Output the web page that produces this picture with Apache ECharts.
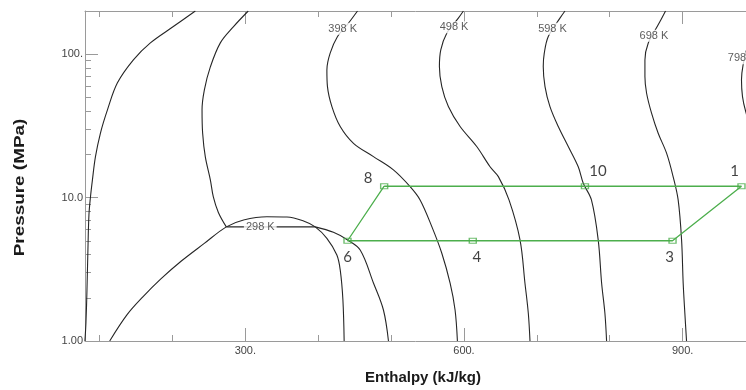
<!DOCTYPE html>
<html><head><meta charset="utf-8">
<script src="https://cdn.jsdelivr.net/npm/echarts@6/dist/echarts.min.js"></script>
<style>html,body{margin:0;padding:0;background:#fff}#c{width:746px;height:390px}</style>
</head><body><div id="c"></div>
<script>
// ---------- data (enthalpy kJ/kg, pressure MPa) ----------
const xMajorTicks = [300, 600, 900];
const xMinorTicks = [100, 200, 400, 500, 700, 800];
const yMajorTicks = [1, 10, 100];
const yMinorTicks = [2, 3, 4, 5, 6, 7, 8, 9, 20, 30, 40, 50, 60, 70, 80, 90];

const leftCurve = [[231.4,200],[201.2,155.8],[169.7,119.9],[146.4,91.3],[124.5,63.1],[110.8,40.9],[101.2,28.2],[94.3,19.2],[90.2,13.3],[87.5,10.1],[85.4,7.57],[84.0,4.31],[82.7,2.27],[81.3,1.34],[79.9,1.0]];
const iso298Liquid = [[304.0,200],[283.5,155],[265.7,119.9],[252.0,81.5],[243.8,56.4],[240.6,40.9],[241.4,28.2],[245.1,19.2],[252.0,13.3],[256.1,10.1],[263.0,7.88],[273.9,6.25]];
const iso298Flat = [[273.9,6.25],[395.9,6.25]];
const iso298Vapor = [[395.9,6.25],[420.9,5.73],[439.3,5.1],[457.6,4.31],[475.8,2.54],[489.5,1.645],[496.4,1.0]];
const satDome = [[113.9,1.0],[137.5,1.52],[159.4,2.03],[184.1,2.71],[212.2,3.61],[243.7,4.79],[273.9,6.25],[297.6,6.98],[329.7,7.36],[357.1,7.33],[379.9,6.87],[395.9,6.25],[411.9,5.20],[425.6,3.98],[430.2,3.13],[433.9,1.93],[435.6,1.0]];
const iso398 = [[453.9,200],[441.5,164.5],[426.5,132.7],[416.4,101.6],[411.9,77.7],[412.7,59.4],[418.8,43.1],[430.2,31.3],[448.4,23.9],[475.8,19.3],[503.2,15.6],[526.1,11.92],[539.8,9.63],[555.9,6.27],[569.6,4.09],[581.0,2.53],[587.8,1.645],[591.0,1.0]];
const iso498 = [[599.2,200],[592.3,178.3],[576.4,140.1],[568.2,107.2],[566.3,81.9],[569.6,59.4],[578.6,43.1],[594.7,31.3],[617.5,22.7],[635.8,16.4],[647.2,14.0],[661.8,9.63],[676.9,5.07],[683.7,2.53],[688.3,1.56],[690.6,1.0]];
const iso598 = [[738.6,200],[731.7,178.3],[715.7,132.7],[710.2,101.6],[708.8,81.9],[711.2,59.4],[718.0,43.1],[729.4,31.3],[743.1,22.7],[756.8,16.4],[763.7,12.6],[774.9,9.63],[784.2,5.07],[788.9,2.53],[793.4,1.56],[795.7,1.0]];
const iso698 = [[876.6,200],[866.5,160.1],[852.8,119.3],[848.3,91.2],[848.3,69.8],[850.6,53.4],[857.4,38.8],[866.5,28.1],[878.0,20.4],[887.0,14.0],[893.9,9.63],[898.6,5.07],[900.8,2.53],[903.1,1.56],[905.4,1.0]];
const iso798 = [[1003,200],[995,155],[989.4,116],[983.0,84.2],[980.8,66.2],[982.2,50.6],[986.7,39.6],[994.9,29.6],[1010,20]];

const isoLabels = [['398 K',433.6,150.2],['498 K',586.4,153.8],['598 K',721.5,150.2],['698 K',860.6,134.2],['798 K',981.8,93.5],['298 K',320.5,6.25]];

const stateNames = ['1','3','4','6','8','10'];
const stateEnthalpy = [980.8, 886.2, 612.1, 440.2, 490.5, 766.0];
const statePressure = [12, 5, 5, 5, 12, 12];
const cycleOrder = ['8','10','1','3','4','6','8'];

// ---------- styling / build ----------
const axisGray = '#9a9a9a';
const curveColor = '#262626';
const green = '#4cae4c';
const labelOffsets = {'1':[-7,-15],'3':[-3,16],'4':[4,16],'6':[0,16],'8':[-16,-8],'10':[13,-15]};

function xAxisDef(pos, ticks, len, showLine, showLabels) {
  return {
    type: 'value', position: pos, min: 80, max: 987,
    axisLine: {show: showLine, lineStyle: {color: axisGray, width: 1}},
    axisTick: {show: true, inside: true, length: len, customValues: ticks, lineStyle: {color: axisGray}},
    axisLabel: showLabels ? {show: true, customValues: ticks, margin: 4, color: '#444', fontSize: 11,
      fontFamily: 'Liberation Sans, Arial, sans-serif', formatter: v => v + '.'} : {show: false},
    splitLine: {show: false}
  };
}
function yAxisDef(ticks, len, showLine, showLabels) {
  return {
    type: 'log', logBase: 10, min: 1, max: 200, position: 'left',
    axisLine: {show: showLine, lineStyle: {color: axisGray, width: 1}},
    axisTick: {show: true, inside: true, length: len, customValues: ticks, lineStyle: {color: axisGray}},
    axisLabel: showLabels ? {show: true, customValues: ticks, margin: 2, color: '#444', fontSize: 11,
      fontFamily: 'Liberation Sans, Arial, sans-serif', padding: [0, 0, 4, 0],
      formatter: v => v >= 100 ? v + '.' : (v >= 10 ? v.toFixed(1) : v.toFixed(2))} : {show: false},
    splitLine: {show: false}, minorTick: {show: false}
  };
}
function curve(data, z) {
  return {type: 'line', data: data, smooth: 0.35, showSymbol: false, symbol: 'none', z: z || 2,
    lineStyle: {color: curveColor, width: 1.1}, silent: true, animation: false};
}

const stateData = stateNames.map((n, i) => ({
  name: n, value: [stateEnthalpy[i], statePressure[i]],
  label: {offset: labelOffsets[n]}
}));
const cyclePath = cycleOrder.map(n => {
  const i = stateNames.indexOf(n);
  return [stateEnthalpy[i], statePressure[i]];
});

const chart = echarts.init(document.getElementById('c'), null, {renderer: 'canvas'});
chart.setOption({
  animation: false,
  backgroundColor: '#fff',
  grid: {left: 85, right: 0, top: 11, bottom: 49, containLabel: false, outerBoundsMode: 'none'},
  xAxis: [
    xAxisDef('bottom', xMajorTicks, 13, true, true),
    xAxisDef('bottom', xMinorTicks, 6, false, false),
    xAxisDef('top', xMajorTicks, 13, true, false),
    xAxisDef('top', xMinorTicks, 6, false, false)
  ],
  yAxis: [
    yAxisDef(yMajorTicks, 13, true, true),
    yAxisDef(yMinorTicks, 6, false, false)
  ],
  series: [
    curve(leftCurve), curve(iso298Liquid), {...curve(iso298Flat), smooth: false}, curve(iso298Vapor),
    curve(satDome), curve(iso398), curve(iso498), curve(iso598), curve(iso698), curve(iso798),
    {
      type: 'scatter', z: 5, silent: true, symbolSize: 1, itemStyle: {color: 'rgba(0,0,0,0)'},
      data: isoLabels.map(l => ({name: l[0], value: [l[1], l[2]]})),
      label: {show: true, position: 'inside', formatter: p => p.name, color: '#333', fontSize: 11,
        fontFamily: 'Liberation Sans, Arial, sans-serif', backgroundColor: '#fff', padding: [1, 2, 0, 2]}
    },
    {
      type: 'line', z: 6, data: cyclePath, showSymbol: false, symbol: 'none', smooth: false,
      lineStyle: {color: green, width: 1.3}, silent: true
    },
    {
      type: 'scatter', z: 7, data: stateData, symbol: 'rect', symbolSize: [7, 5], silent: true,
      itemStyle: {color: 'rgba(255,255,255,0)', borderColor: green, borderWidth: 1.2},
      label: {show: true, position: 'inside', formatter: p => p.name, color: '#111', fontSize: 15,
        fontFamily: 'Lato, Open Sans, sans-serif'}
    }
  ],
  graphic: [
    {type: 'text', x: 20, y: 187.5, rotation: Math.PI / 2, scaleX: 1.35, scaleY: 1,
      style: {text: 'Pressure (MPa)', font: 'bold 14px "Liberation Sans", Arial, sans-serif', fill: '#1a1a1a',
        align: 'center', verticalAlign: 'middle', textAlign: 'center', textVerticalAlign: 'middle'}},
    {type: 'text', x: 423, y: 378, 
      style: {text: 'Enthalpy (kJ/kg)', font: 'bold 15px "Liberation Sans", Arial, sans-serif', fill: '#1a1a1a',
        align: 'center', verticalAlign: 'middle', textAlign: 'center', textVerticalAlign: 'middle'}}
  ]
});
</script></body></html>
